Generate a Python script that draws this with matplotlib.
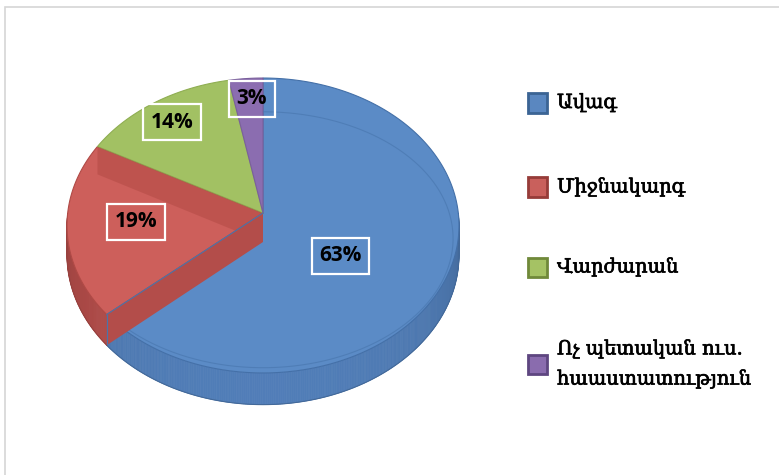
import numpy as np
import matplotlib
matplotlib.use("Agg")
import matplotlib.pyplot as plt
from matplotlib.patches import Polygon, Rectangle
import matplotlib.patheffects as pe

categories = ["Ավագ", "Միջնակարգ", "Վարժարան", "Ոչ պետական ուս.\nհաաստատություն"]
values = [63, 19, 14, 3]
pct_labels = ["63%", "19%", "14%", "3%"]

top_colors = ["#5b8bc6", "#cd5f5b", "#a2c163", "#8b6db0"]
side_colors = ["#4f7bb4", "#b24c49", "#809a45", "#6a5089"]
edge_colors = ["#4470a8", "#b04a46", "#8fae52", "#7a5f9c"]
legend_face = ["#5a87c0", "#c9605c", "#a5c264", "#8a6cae"]
legend_edge = ["#3b6494", "#963c39", "#70893a", "#5e4680"]

W, H = 779, 475
fig = plt.figure(figsize=(W / 100, H / 100), dpi=100)
fig.patch.set_facecolor("white")

ax = fig.add_axes([0, 0, 1, 1])
ax.set_xlim(0, W)
ax.set_ylim(H, 0)
ax.axis("off")

# perspective projection of the pie plane (layout)
CX, CY, A, B, K, D = 263.0, 213.0, 195.3, 146.4, 0.0847, 29.0


def proj(u, v, drop=0.0):
    s = 1.0 + K * v
    return CX + A * u / s, CY - B * v / s + drop / s


def rim(t_deg, r=1.0, drop=0.0):
    t = np.radians(t_deg)
    x, y = proj(r * np.cos(t), r * np.sin(t), drop)
    return np.column_stack([np.atleast_1d(x), np.atleast_1d(y)])


# frame
fig.add_artist(Rectangle((5 / W, -0.1), 1.2, (H - 7) / H + 0.1, transform=fig.transFigure,
                         fill=False, edgecolor="#d6d6d6", linewidth=1.2))

fracs = np.array(values, float) / sum(values)
start = 90.0
angles = []  # (end angle, start angle), clockwise from 12 o'clock
for f in fracs:
    t2 = start
    t1 = start - 360 * f
    angles.append((t1, t2))
    start = t1

# side walls (front half) with gentle shading
for (t1, t2), sc in zip(angles, side_colors):
    base = np.array(matplotlib.colors.to_rgb(sc))
    for shift in (0, 360, -360):
        lo, hi = max(t1 + shift, 180), min(t2 + shift, 360)
        if hi > lo:
            ts = np.linspace(lo, hi, int((hi - lo) * 2) + 2)
            for a, b in zip(ts[:-1], ts[1:]):
                m = np.radians((a + b) / 2)
                shade = 0.82 + 0.2 * (-np.sin(m)) ** 0.6
                col = np.clip(base * shade, 0, 1)
                seg = np.linspace(a, b, 3)
                pts = np.vstack([rim(seg), rim(seg[::-1], drop=D)])
                ax.add_patch(Polygon(pts, closed=True, facecolor=col, edgecolor=col,
                                     linewidth=0.5, zorder=1))
            ax.plot(*rim(np.linspace(lo, hi, 100), drop=D).T, color=np.clip(base * 0.85, 0, 1),
                    lw=0.8, zorder=1.5)

# top faces
top_patches = []
for (t1, t2), tc, ec in zip(angles, top_colors, edge_colors):
    arc = rim(np.linspace(t2, t1, 200))
    pts = np.vstack([[[CX, CY]], arc])
    p = Polygon(pts, closed=True, facecolor=tc, edgecolor=ec, linewidth=0.8, zorder=2)
    ax.add_patch(p)
    top_patches.append(p)

# see-through radial faces of the red slice
red_green, red_blue = angles[1]
for t, col, al in ((red_green, "#b04843", 0.5), (red_blue, "#b34d4a", 1.0)):
    p0 = rim(t)[0]
    pts = np.array([[CX, CY], p0, p0 + [0, D / (1 + K * np.sin(np.radians(t)))], [CX, CY + D]])
    ax.add_patch(Polygon(pts, closed=True, facecolor=col, edgecolor="none", alpha=al, zorder=3))
# blue slice edge drawn through
p0 = rim(red_blue)[0]
ax.plot([CX, p0[0]], [CY, p0[1]], color="#4a74aa", lw=0.8, zorder=3.5)
ax.plot([p0[0], p0[0]], [p0[1], p0[1] + D], color="#4a74aa", lw=0.8, zorder=3.5)

# bevel inner line on the blue top face
ts = np.linspace(angles[0][0], angles[0][1], 300)
tr = np.radians(ts)
bx, by = proj(0.97 * np.cos(tr), 0.97 * np.sin(tr), 0.0)
by = by + 30 * (1 + np.sin(tr)) / 2
ln, = ax.plot(bx, by, color="#4a78b0", lw=0.8, alpha=0.7, zorder=2.5)
ln.set_clip_path(top_patches[0])

# percentage labels
label_r = [0.48, 0.65, 0.82, 0.836]
label_ang_off = [-11.9, -1.2, 0.6, -1.3]
for (t1, t2), lab, r, off in zip(angles, pct_labels, label_r, label_ang_off):
    m = np.radians((t1 + t2) / 2 + off)
    x, y = proj(r * np.cos(m), r * np.sin(m))
    ax.text(x, y, lab, ha="center", va="center",
            fontsize=15, fontweight="bold", family=["Open Sans", "DejaVu Sans"],
            color="black", zorder=5,
            bbox=dict(boxstyle="square,pad=0.36", facecolor="none",
                      edgecolor="white", linewidth=1.6))

# legend
leg_y = [103, 187, 267, 364]
for cat, fc, ec, y in zip(categories, legend_face, legend_edge, leg_y):
    fig.add_artist(Rectangle((528 / W, 1 - (y + 9.5) / H), 19 / W, 19 / H,
                             transform=fig.transFigure, facecolor=fc,
                             edgecolor=ec, linewidth=2.0))
    fig.text(557 / W, 1 - y / H, cat, ha="left", va="center", fontsize=14,
             family=["DejaVu Serif", "DejaVu Sans"], color="black",
             linespacing=1.75,
             path_effects=[pe.withStroke(linewidth=0.5, foreground="black")])

fig.savefig("out.png", dpi=100, facecolor="white")
